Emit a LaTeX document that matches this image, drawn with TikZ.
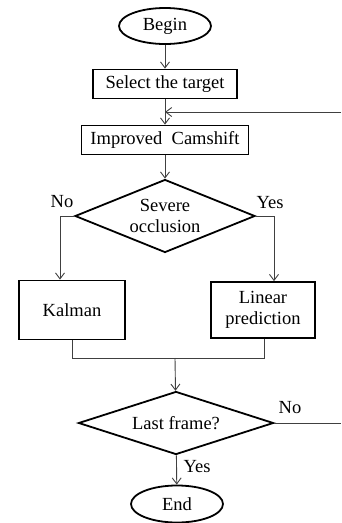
\documentclass[tikz,border=0pt]{standalone}
\usepackage{fontspec}
\setmainfont{Liberation Serif}
\usetikzlibrary{shapes.geometric, arrows, arrows.meta, positioning}
\tikzstyle{arrow} = [-{Straight Barb[length=6pt,width=9pt]}, line width=0.9pt, draw=black!75]
\tikzstyle{line} = [line width=0.9pt, draw=black!75]
\tikzstyle{startstop} = [ellipse, minimum width=92pt, minimum height=36pt, inner sep=0pt, text centered, draw=black, line width=1.8pt]
\tikzstyle{process} = [rectangle, minimum height=29pt, inner sep=0pt, text centered, align=center, draw=black, line width=1.8pt]
\tikzstyle{decision} = [diamond, aspect=2.5, inner sep=0pt, text centered, align=center, draw=black, line width=1.8pt]
\tikzstyle{answer} = [inner sep=0pt]

\begin{document}
\begin{tikzpicture}[node distance=58pt, x=1pt, y=1pt, font=\fontsize{18.5}{21}\selectfont]
\useasboundingbox (0,0) rectangle (341,-523);

\node (begin) [startstop] at (165,-26) {Begin};

\node (select) [process, below of=begin, minimum width=144pt] {Select the target};
\node (camshift) [process, below of=select, yshift=2pt, minimum width=167pt] {Improved\ \ Camshift};
\node (occlusion) [decision, below of=camshift, yshift=-18pt, minimum width=180pt, minimum height=73pt] {Severe\\occlusion};
\node (kalman) [process, below of=occlusion, xshift=-93pt, yshift=-36pt, minimum width=106pt, minimum height=59pt] {Kalman};
\node (linear) [process, below of=occlusion, xshift=98pt, yshift=-36pt, minimum width=104pt, minimum height=56pt] {Linear\\prediction};
\node (lastframe) [decision, below of=occlusion, xshift=11pt, yshift=-149pt, minimum width=195pt, minimum height=63pt] {Last frame?};
\node (end) [startstop, below of=lastframe, xshift=1pt, yshift=-23pt, minimum height=37pt] {End};

\node (no1) [answer] at (62,-202) {No};
\node (yes1) [answer] at (270,-203) {Yes};
\node (no2) [answer] at (290,-408) {No};
\node (yes2) [answer] at (197,-467) {Yes};

\node[coordinate] (l_occlusion) at (60,-216) {};
\node[coordinate] (r_occlusion) at (274,-216) {};
\node[coordinate] (b_kalman) at (72,-358) {};
\node[coordinate] (b_linear) at (264,-358) {};
\node[coordinate] (m_merge) at (175,-358) {};
\node[coordinate] (r_lastframe) at (341,-423) {};
\node[coordinate] (r_camshift) at (341,-112) {};

\draw [arrow] (begin) -- (select);
\draw [arrow] (select) -- (camshift);
\draw [arrow] (camshift) -- (occlusion);
\draw [arrow] (occlusion.west) -- (l_occlusion) -- (l_occlusion |- kalman.north);
\draw [arrow] (occlusion.east) -- (r_occlusion) -- (r_occlusion |- linear.north);
\draw [line] (b_kalman |- kalman.south) -- (b_kalman) -- (b_linear) -- (b_linear |- linear.south);
\draw [arrow] (m_merge) -- (lastframe);
\draw [arrow] (lastframe) -- (end);
\draw [line] (lastframe.east) -- (r_lastframe);
\draw [arrow] (r_camshift) -- (r_camshift -| camshift);

\end{tikzpicture}
\end{document}
